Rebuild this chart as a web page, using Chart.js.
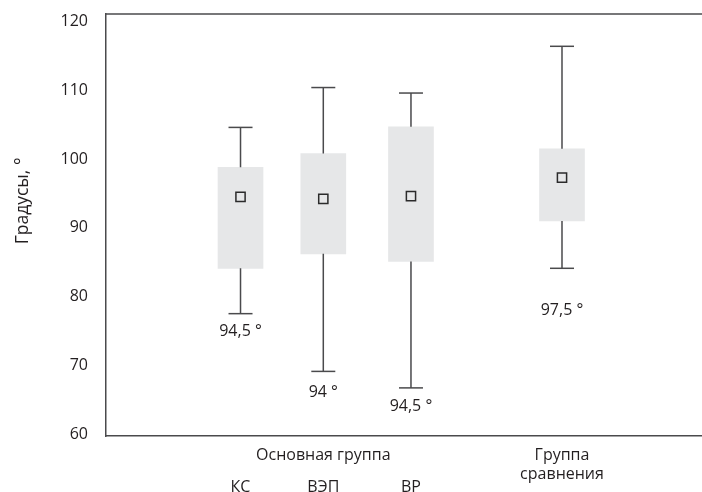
<!DOCTYPE html>
<html>
<head>
<meta charset="utf-8">
<script src="https://cdn.jsdelivr.net/npm/chart.js@4/dist/chart.umd.min.js"></script>
<style>
  html, body { margin: 0; padding: 0; background: #fff; }
  #wrap { width: 702px; height: 492px; }
</style>
</head>
<body>
<div id="wrap"><canvas id="boxChart"></canvas></div>
<script>
// data
const groups = ['КС', 'ВЭП', 'ВР', 'Группа сравнения'];
const whiskerMin = [77.5, 69.1, 66.7, 84.1];
const boxLow = [84.1, 86.2, 85.1, 91.0];
const means = [94.5, 94.2, 94.6, 97.3];
const boxHigh = [98.8, 100.8, 104.7, 101.5];
const whiskerMax = [104.6, 110.4, 109.6, 116.4];
const meanLabels = ['94,5 °', '94 °', '94,5 °', '97,5 °'];
const yTicks = [60, 70, 80, 90, 100, 110, 120];

// layout (horizontal slot of each box on a 0..100 axis, label offsets in px)
const slotX = [22.57, 36.46, 51.17, 76.51];
const labelGap = [18, 21, 19, 42];

const ink = '#231f20';
const lineCol = '#4a4a4c';
const font = '"Open Sans", "Noto Sans", sans-serif';

const whiskerData = [];
groups.forEach((g, i) => {
    whiskerData.push({ x: slotX[i], y: whiskerMax[i] });
    whiskerData.push({ x: slotX[i], y: boxHigh[i] });
    whiskerData.push({ x: slotX[i], y: null });
    whiskerData.push({ x: slotX[i], y: boxLow[i] });
    whiskerData.push({ x: slotX[i], y: whiskerMin[i] });
    whiskerData.push({ x: slotX[i], y: null });
});

const textPlugin = {
    id: 'texts',
    afterDraw(chart) {
        const c = chart.ctx;
        const xs = chart.scales.x;
        const ys = chart.scales.y;
        const area = chart.chartArea;
        c.save();
        // top frame line
        c.strokeStyle = lineCol;
        c.lineWidth = 1.5;
        c.beginPath();
        c.moveTo(area.left, area.top);
        c.lineTo(area.right, area.top);
        c.stroke();

        c.fillStyle = ink;
        c.font = '16px ' + font;
        c.textAlign = 'center';
        c.textBaseline = 'middle';
        groups.forEach((g, i) => {
            const px = xs.getPixelForValue(slotX[i]);
            const py = ys.getPixelForValue(whiskerMin[i]) + labelGap[i];
            c.fillText(meanLabels[i], px, py);
        });
        // category labels under the axis
        const base = area.bottom;
        c.fillText('Основная группа', xs.getPixelForValue(slotX[1]), base + 19);
        for (let i = 0; i < 3; i++) {
            c.fillText(groups[i], xs.getPixelForValue(slotX[i]), base + 51);
        }
        const parts = groups[3].split(' ');
        c.fillText(parts[0], xs.getPixelForValue(slotX[3]), base + 19);
        c.fillText(parts[1], xs.getPixelForValue(slotX[3]), base + 38);
        // y title
        c.font = '17.5px ' + font;
        c.textBaseline = 'alphabetic';
        c.translate(28, 201);
        c.rotate(-Math.PI / 2);
        c.fillText('Градусы, °', 0, 0);
        c.restore();
    }
};

new Chart(document.getElementById('boxChart'), {
    data: {
        datasets: [
            {
                type: 'bar',
                data: groups.map((g, i) => ({ x: slotX[i], y: [boxLow[i], boxHigh[i]] })),
                backgroundColor: '#e6e7e8',
                borderWidth: 0,
                barThickness: 45,
                grouped: false,
                order: 3
            },
            {
                type: 'line',
                data: whiskerData,
                borderColor: lineCol,
                borderWidth: 1.5,
                pointRadius: 0,
                spanGaps: false,
                order: 2
            },
            {
                type: 'scatter',
                data: groups.flatMap((g, i) => [{ x: slotX[i], y: whiskerMax[i] }, { x: slotX[i], y: whiskerMin[i] }]),
                pointStyle: 'line',
                pointRadius: 12,
                borderColor: lineCol,
                borderWidth: 1.5,
                order: 1
            },
            {
                type: 'scatter',
                data: groups.map((g, i) => ({ x: slotX[i], y: means[i] })),
                pointStyle: 'rect',
                pointRadius: 6.5,
                borderColor: '#2b2b2b',
                backgroundColor: 'rgba(0,0,0,0)',
                borderWidth: 1.5,
                order: 0
            }
        ]
    },
    options: {
        responsive: true,
        maintainAspectRatio: false,
        animation: false,
        layout: { autoPadding: false, padding: { left: 0, top: 14, right: 0, bottom: 56 } },
        plugins: { legend: { display: false }, tooltip: { enabled: false } },
        scales: {
            x: {
                type: 'linear',
                position: 'bottom',
                offset: false,
                min: 0,
                max: 100,
                grid: { display: false },
                ticks: { display: false },
                border: { display: true, color: lineCol, width: 1.5 },
                afterFit(s) { s.height = 0; }
            },
            y: {
                type: 'linear',
                min: 59.7,
                max: 121.1,
                grid: { display: false, drawTicks: false },
                border: { display: true, color: lineCol, width: 1.5 },
                ticks: { color: ink, font: { family: font, size: 16 }, padding: 18 },
                afterBuildTicks(s) { s.ticks = yTicks.map(v => ({ value: v })); },
                afterFit(s) {
                    s.width = 106;
                    s.paddingTop = 0;
                    s.paddingBottom = 0;
                }
            }
        }
    },
    plugins: [textPlugin]
});
</script>
</body>
</html>
